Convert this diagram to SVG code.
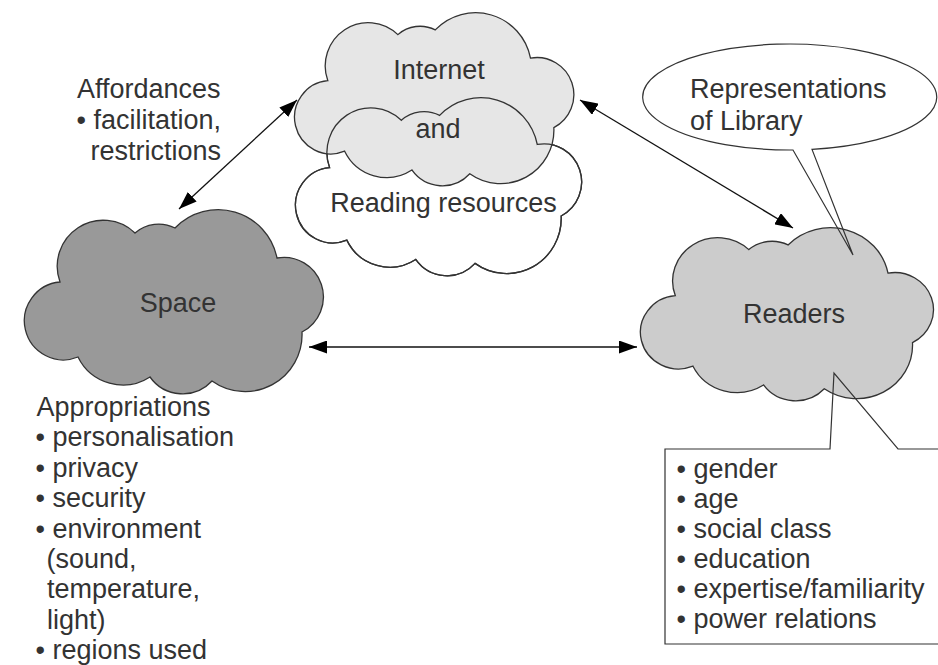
<svg xmlns="http://www.w3.org/2000/svg" xmlns:xlink="http://www.w3.org/1999/xlink" width="938" height="665" viewBox="0 0 938 665">
  <style>
    .cloud { stroke: #333333; stroke-width: 1.3; }
    .cloud path { vector-effect: non-scaling-stroke; }
    .callout { fill: none; stroke: #333333; stroke-width: 1.2; }
    .arrow { stroke: #111111; stroke-width: 1.3; fill: none; marker-start: url(#ah); marker-end: url(#ah); }
    text { font-family: "Liberation Sans", Arial, sans-serif; font-size: 27px; fill: #333333; }
    .mid { text-anchor: middle; }
  </style>
  <defs>
    <path id="cloud" vector-effect="non-scaling-stroke" d="M33,72 A46,46 0 0,1 108,23 A36,36 0 0,1 148,18 A60,60 0 0,1 250,48 A39.5,39.5 0 0,1 275,122 A57,57 0 0,1 185,171 A40,40 0 0,1 123,167 A50,50 0 0,1 51,147 A39,39 0 1,1 33,72 Z"/>
    <marker id="ah" markerWidth="18" markerHeight="13" refX="18" refY="6.5" orient="auto-start-reverse" markerUnits="userSpaceOnUse">
      <path d="M0,0 L18,6.5 L0,13 Z" fill="#000000"/>
    </marker>
  </defs>

  <g id="reading-resources">
    <use xlink:href="#cloud" href="#cloud" class="cloud" fill="#ffffff" transform="translate(298,98) scale(0.957,0.967)"/>
  </g>
  <g id="internet">
    <use xlink:href="#cloud" href="#cloud" class="cloud" fill="#e6e6e6" transform="translate(297,13) scale(0.934,0.94)"/>
    <use xlink:href="#cloud" href="#cloud" class="cloud" fill="none" transform="translate(298,98) scale(0.957,0.967)"/>
    <text x="439" y="79" class="mid">Internet</text>
    <text x="438" y="138" class="mid">and</text>
    <text x="443.5" y="212" class="mid">Reading resources</text>
  </g>

  <g id="space">
    <use xlink:href="#cloud" href="#cloud" class="cloud" fill="#999999" transform="translate(27,210)"/>
    <text x="178" y="312" class="mid">Space</text>
  </g>

  <g id="readers">
    <use xlink:href="#cloud" href="#cloud" class="cloud" fill="#cccccc" transform="translate(643,228) scale(0.98,0.94)"/>
    <text x="794" y="323" class="mid">Readers</text>
  </g>

  <g id="representations">
    <path class="callout" d="M812,149.4 A147,53 0 1,0 793,150 L853,255 Z"/>
    <text x="690" y="98">Representations</text>
    <text x="690" y="130">of Library</text>
  </g>

  <g id="reader-attributes">
    <path class="callout" d="M830,449 L665,449 L665,644 L945,644 L945,449 L898,449 L834,373 Z"/>
    <text x="676.5" y="478">• gender</text>
    <text x="676.5" y="508">• age</text>
    <text x="676.5" y="538">• social class</text>
    <text x="676.5" y="568">• education</text>
    <text x="676.5" y="598">• expertise/familiarity</text>
    <text x="676.5" y="628">• power relations</text>
  </g>

  <g id="affordances">
    <text x="77" y="98">Affordances</text>
    <text x="76.5" y="129">• facilitation,</text>
    <text x="90.5" y="160">restrictions</text>
  </g>

  <g id="appropriations">
    <text x="36.5" y="416">Appropriations</text>
    <text x="35.5" y="446.4">• personalisation</text>
    <text x="35.5" y="476.8">• privacy</text>
    <text x="35.5" y="507.2">• security</text>
    <text x="35.5" y="537.6">• environment</text>
    <text x="46.5" y="568">(sound,</text>
    <text x="47" y="598.4">temperature,</text>
    <text x="47" y="628.8">light)</text>
    <text x="35.5" y="658.6">• regions used</text>
  </g>

  <g id="connectors">
    <line class="arrow" x1="179" y1="209" x2="297" y2="100"/>
    <line class="arrow" x1="580" y1="100" x2="793" y2="228"/>
    <line class="arrow" x1="309" y1="347" x2="637" y2="347"/>
  </g>
</svg>
